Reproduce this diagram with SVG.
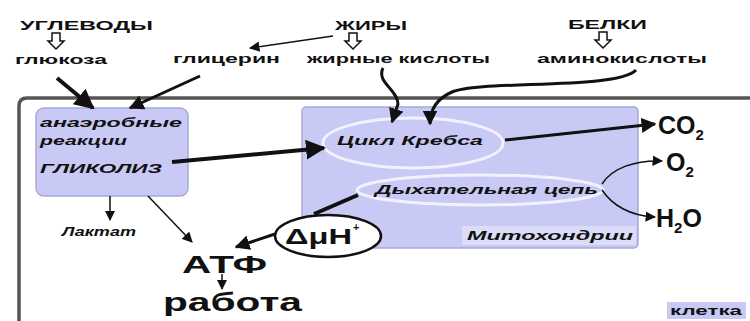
<svg xmlns="http://www.w3.org/2000/svg" width="750" height="321" viewBox="0 0 750 321">
<defs>
<marker id="ah" viewBox="0 0 10 10" refX="9" refY="5" markerWidth="5" markerHeight="5" orient="auto-start-reverse" markerUnits="strokeWidth"><path d="M0,0 L10,5 L0,10 z" fill="#111"/></marker>
<marker id="ahs" viewBox="0 0 10 10" refX="9" refY="5" markerWidth="7" markerHeight="7" orient="auto" markerUnits="strokeWidth"><path d="M0,0 L10,5 L0,10 z" fill="#111"/></marker>
</defs>
<style>
.t{font-family:"Liberation Sans",Arial,sans-serif;font-weight:bold;fill:#111}
.s{font-size:13px}
.i{font-style:italic}
.big{font-size:25px}
.box{fill:#c9c9f5;stroke:#a9a9d9;stroke-width:1.5}
.ell{fill:none;stroke:#f2f2ff;stroke-width:3}
.ln{fill:none;stroke:#111;stroke-width:3}
.th{fill:none;stroke:#111;stroke-width:4}
.tn{fill:none;stroke:#111;stroke-width:1.5}
.hol{fill:#fff;stroke:#111;stroke-width:1.5}
</style>
<rect width="750" height="321" fill="#fff"/>
<g id="cell">
<path d="M19,321 V106 Q19,98 27,98 H750" fill="none" stroke="#555" stroke-width="3.5"/>
<rect x="667" y="302" width="79" height="17" fill="#c9c9f5"/>
<text class="t" x="670" y="315" font-size="12" textLength="72" lengthAdjust="spacingAndGlyphs">клетка</text>
</g>
<g id="anaerobic">
<rect class="box" x="36" y="108" width="152" height="88" rx="8"/>
<text class="t s i" x="40" y="127" textLength="142" lengthAdjust="spacingAndGlyphs">анаэробные</text>
<text class="t s i" x="40" y="145" textLength="87" lengthAdjust="spacingAndGlyphs">реакции</text>
<text class="t s i" x="40" y="173" textLength="122" lengthAdjust="spacingAndGlyphs">ГЛИКОЛИЗ</text>
</g>
<g id="mito">
<rect class="box" x="302" y="107" width="336" height="141" rx="4"/>
<rect x="462" y="226" width="174" height="19" fill="#dcdcf8"/>
<text class="t i" x="467" y="240" font-size="12" textLength="166" lengthAdjust="spacingAndGlyphs">Митохондрии</text>
</g>
<g id="krebs">
<ellipse class="ell" cx="413" cy="143" rx="90" ry="25"/>
<text class="t s i" x="337" y="145" textLength="146" lengthAdjust="spacingAndGlyphs">Цикл Кребса</text>
</g>
<g id="resp">
<ellipse class="ell" cx="480" cy="190" rx="123" ry="15"/>
<text class="t s i" x="375" y="194" textLength="223" lengthAdjust="spacingAndGlyphs">Дыхательная цепь</text>
</g>
<g id="dmh">
<ellipse cx="328" cy="236" rx="53" ry="21" fill="#fff" stroke="#111" stroke-width="2.5"/>
<text class="t" x="285" y="244" font-size="22" textLength="67" lengthAdjust="spacingAndGlyphs">ΔμH</text>
<text class="t" x="353" y="231" font-size="11">+</text>
</g>
<g id="top">
<text class="t s" x="20" y="30" textLength="133" lengthAdjust="spacingAndGlyphs">УГЛЕВОДЫ</text>
<text class="t s" x="15" y="64" textLength="92" lengthAdjust="spacingAndGlyphs">глюкоза</text>
<text class="t s" x="173" y="63" textLength="107" lengthAdjust="spacingAndGlyphs">глицерин</text>
<text class="t s" x="335" y="30" textLength="72" lengthAdjust="spacingAndGlyphs">ЖИРЫ</text>
<text class="t s" x="307" y="63" textLength="183" lengthAdjust="spacingAndGlyphs">жирные кислоты</text>
<text class="t s" x="568" y="29" textLength="79" lengthAdjust="spacingAndGlyphs">БЕЛКИ</text>
<text class="t s" x="537" y="63" textLength="170" lengthAdjust="spacingAndGlyphs">аминокислоты</text>
<path class="hol" d="M52,33 H60 V41 H64 L56,49 L48,41 H52 Z"/>
<path class="hol" d="M349,33 H357 V41 H361 L353,49 L345,41 H349 Z"/>
<path class="hol" d="M599,32 H607 V40 H611 L603,48 L595,40 H599 Z"/>
</g>
<g id="products">
<text class="t s i" x="62" y="236" textLength="74" lengthAdjust="spacingAndGlyphs">Лактат</text>
<text class="t" x="182" y="273" font-size="24" textLength="85" lengthAdjust="spacingAndGlyphs">АТФ</text>
<text class="t" x="163" y="311" font-size="26" textLength="139" lengthAdjust="spacingAndGlyphs">работа</text>
<text class="t big" x="658" y="134">CO<tspan font-size="15" dy="6">2</tspan></text>
<text class="t big" x="666" y="171">O<tspan font-size="15" dy="6">2</tspan></text>
<text class="t big" x="656" y="227">H<tspan font-size="15" dy="6">2</tspan><tspan dy="-6">O</tspan></text>
</g>
<g id="connectors">
<path class="th" d="M57,78 L93,108" marker-end="url(#ah)"/>
<path class="ln" d="M200,76 L130,108" marker-end="url(#ah)"/>
<path class="tn" d="M333,36 L250,48" marker-end="url(#ahs)"/>
<path class="ln" d="M383,68 C376,82 398,90 398,104 L392,122" marker-end="url(#ah)"/>
<path class="ln" d="M636,70 C618,90 480,80 452,92 C436,99 430,110 430,124" marker-end="url(#ah)"/>
<path class="th" d="M172,162 L324,148" marker-end="url(#ah)"/>
<path class="ln" d="M505,140 L655,124" marker-end="url(#ah)"/>
<path class="tn" d="M602,184 C612,168 635,160 662,161" marker-end="url(#ahs)"/>
<path class="tn" d="M602,190 C612,205 630,216 655,217" marker-end="url(#ahs)"/>
<path class="th" d="M358,195 L314,214"/>
<path class="tn" d="M110,196 V220" marker-end="url(#ahs)"/>
<path class="tn" d="M148,196 L192,242" marker-end="url(#ahs)"/>
<path class="ln" d="M275,234 L236,247" marker-end="url(#ah)"/>
<path class="tn" d="M222,274 V289" marker-end="url(#ahs)"/>
</g>
</svg>
